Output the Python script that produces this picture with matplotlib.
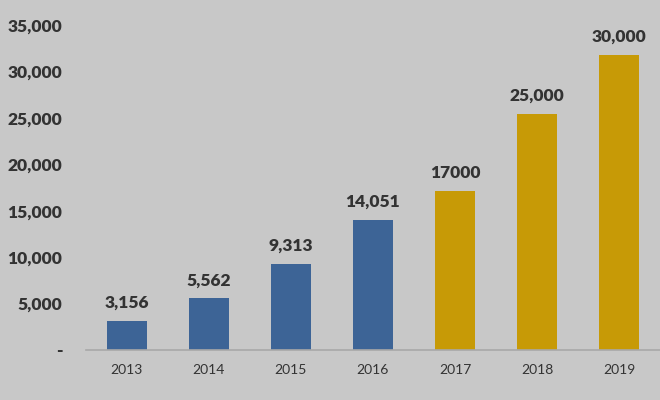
import matplotlib.pyplot as plt
from matplotlib.ticker import FuncFormatter

years = ["2013", "2014", "2015", "2016", "2017", "2018", "2019"]
# bar heights as drawn (the last three bars are drawn taller than their labels say)
values = [3156, 5562, 9313, 14051, 17150, 25450, 31800]
labels = ["3,156", "5,562", "9,313", "14,051", "17000", "25,000", "30,000"]
colors = ["#3d6496"] * 4 + ["#c79a06"] * 3

bg = "#c8c8c8"
txt = "#333333"

plt.rcParams['font.family'] = ['Lato', 'DejaVu Sans']

fig = plt.figure(figsize=(6.6, 4.0), dpi=100, facecolor=bg)
ax = fig.add_axes([0.13, 0.125, 0.87, 0.8125], facecolor=bg)

x = range(len(years))
bars = ax.bar(x, values, width=0.49, color=colors, zorder=2)

for b, lab in zip(bars, labels):
    ax.annotate(lab, (b.get_x() + b.get_width() / 2, b.get_height()),
                xytext=(0, 7), textcoords="offset points",
                ha="center", va="bottom", fontsize=12.5, fontweight="heavy", color=txt)

ax.set_xlim(-0.5, 6.5)
ax.set_ylim(0, 35000)
ax.set_xticks(list(x))
ax.set_xticklabels(years)
ax.set_yticks(range(0, 35001, 5000))
ax.yaxis.set_major_formatter(FuncFormatter(lambda v, p: "-" if v == 0 else f"{int(v):,}"))

for s in ["top", "right", "left"]:
    ax.spines[s].set_visible(False)
ax.spines["bottom"].set_color("#a8a8a8")
ax.spines["bottom"].set_linewidth(1.2)

ax.tick_params(axis="y", length=0, pad=17, labelsize=12.5, colors=txt)
ax.tick_params(axis="x", length=0, pad=10, labelsize=10, colors=txt)
for t in ax.get_yticklabels():
    t.set_fontweight("heavy")

fig.savefig("out.png", facecolor=bg)
